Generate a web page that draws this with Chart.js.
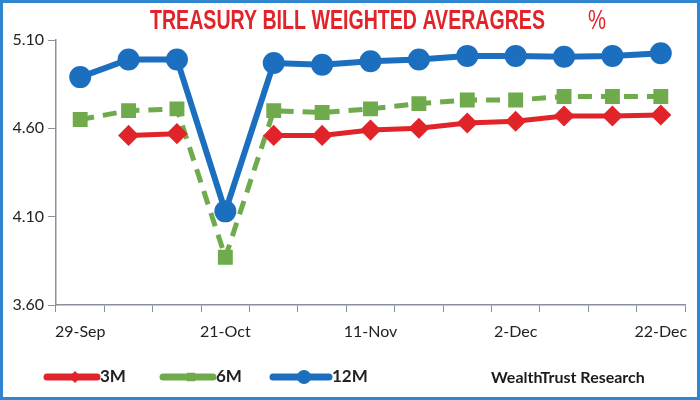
<!DOCTYPE html>
<html>
<head>
<meta charset="utf-8">
<script src="https://cdn.jsdelivr.net/npm/chart.js@4"></script>
<style>
  html, body { margin: 0; padding: 0; background: #fff; }
  #wrap { width: 700px; height: 400px; position: relative; }
</style>
</head>
<body>
<div id="wrap"><canvas id="myChart" width="700" height="400"></canvas></div>
<script>
const labels = ['29-Sep', '6-Oct', '13-Oct', '21-Oct', '28-Oct', '4-Nov', '11-Nov',
    '18-Nov', '25-Nov', '2-Dec', '9-Dec', '16-Dec', '22-Dec'];
const shownLabels = ['29-Sep', '21-Oct', '11-Nov', '2-Dec', '22-Dec'];
const yTicks = [3.60, 4.10, 4.60, 5.10];
const bill3M = [null, 4.56, 4.57, null, 4.56, 4.56, 4.59, 4.60, 4.63, 4.64, 4.67, 4.67, 4.675];
const bill6M = [4.65, 4.70, 4.71, 3.87, 4.70, 4.69, 4.71, 4.74, 4.76, 4.76, 4.78, 4.78, 4.78];
const bill12M = [4.89, 4.99, 4.99, 4.13, 4.97, 4.96, 4.98, 4.99, 5.01, 5.01, 5.005, 5.01, 5.025];

const RED = '#e1232a';
const GREEN = '#6fab4c';
const BLUE = '#1b6fbe';

// squeezed text, the title font is a condensed one
function narrowText(ctx, text, x, y, width) {
    const w = ctx.measureText(text).width;
    ctx.save();
    ctx.translate(x, y);
    ctx.scale(width / w, 1);
    ctx.fillText(text, 0, 0);
    ctx.restore();
}

// title, footer, legend and frame drawn straight onto the canvas
const decor = {
    id: 'decor',
    afterDraw(chart) {
        const ctx = chart.ctx;
        ctx.save();
        ctx.fillStyle = RED;
        ctx.font = 'bold 28px "Liberation Sans"';
        ctx.textBaseline = 'middle';
        ctx.textAlign = 'left';
        narrowText(ctx, 'TREASURY BILL WEIGHTED AVERAGRES', 150, 21, 395);
        ctx.font = '28px "Liberation Sans"';
        narrowText(ctx, '%', 588, 21, 18);

        // legend
        const items = [
            { x: 47, w: 50, ds: chart.data.datasets[0] },
            { x: 163, w: 50, ds: chart.data.datasets[1] },
            { x: 273, w: 56, ds: chart.data.datasets[2] }
        ];
        const ly = 377;
        items.forEach(it => {
            ctx.strokeStyle = it.ds.borderColor;
            ctx.lineWidth = 7;
            ctx.lineCap = 'round';
            ctx.beginPath();
            ctx.moveTo(it.x, ly);
            ctx.lineTo(it.x + it.w, ly);
            ctx.stroke();
            ctx.fillStyle = it.ds.borderColor;
            Chart.helpers.drawPoint(ctx, {
                pointStyle: it.ds.pointStyle, radius: it.ds.pointRadius - 1, borderWidth: 0
            }, it.x + it.w / 2 + 3, ly);
            ctx.fillStyle = '#222';
            ctx.font = 'bold 17px Lato';
            ctx.textAlign = 'left';
            ctx.fillText(it.ds.label, it.x + it.w + 3, ly);
        });
        ctx.fillStyle = '#1a1a1a';
        ctx.font = 'bold 16px Lato';
        ctx.fillText('WealthTrust Research', 491, 378);

        // frame
        ctx.strokeStyle = '#2f86cf';
        ctx.lineWidth = 3;
        ctx.strokeRect(1.5, 1.5, 697, 397);
        ctx.restore();
    }
};

const data = {
    labels: labels,
    datasets: [{
        label: '3M',
        data: bill3M,
        borderColor: RED,
        backgroundColor: RED,
        borderWidth: 5,
        pointStyle: 'rectRot',
        pointRadius: 7,
        spanGaps: false
    }, {
        label: '6M',
        data: bill6M,
        borderColor: GREEN,
        backgroundColor: GREEN,
        borderWidth: 5,
        borderDash: [14, 9],
        pointStyle: 'rect',
        pointRadius: 7
    }, {
        label: '12M',
        data: bill12M,
        borderColor: BLUE,
        backgroundColor: BLUE,
        borderWidth: 6,
        pointStyle: 'circle',
        pointRadius: 8
    }]
};

const config = {
    type: 'line',
    data: data,
    options: {
        responsive: false,
        animation: false,
        layout: { padding: { left: 0, right: 15, top: 40, bottom: 0 } },
        plugins: {
            legend: { display: false },
            title: { display: false },
            tooltip: { enabled: false }
        },
        scales: {
            x: {
                offset: true,
                grid: { offset: true, drawOnChartArea: false, drawTicks: true, tickLength: 7, color: '#8a8f9c' },
                border: { color: '#8a8f9c', width: 1.5 },
                ticks: {
                    autoSkip: false,
                    maxRotation: 0,
                    padding: 10,
                    color: '#222',
                    font: { family: 'Lato', size: 16 },
                    callback: function (v, i) {
                        const l = labels[i];
                        return shownLabels.includes(l) ? l : '';
                    }
                },
                afterFit: s => { s.height = 95; }
            },
            y: {
                min: yTicks[0],
                max: yTicks[yTicks.length - 1],
                afterBuildTicks: s => { s.ticks = yTicks.map(v => ({ value: v })); },
                grid: { drawOnChartArea: false, drawTicks: true, tickLength: 8, color: '#8a8f9c' },
                border: { color: '#8a8f9c', width: 1.5 },
                ticks: {
                    padding: 4,
                    color: '#222',
                    font: { family: 'Lato', size: 16 },
                    callback: v => v.toFixed(2)
                },
                afterFit: s => { s.width = 56; }
            }
        }
    },
    plugins: [decor]
};

var myChart = new Chart(
    document.getElementById('myChart'),
    config
);
</script>
</body>
</html>
